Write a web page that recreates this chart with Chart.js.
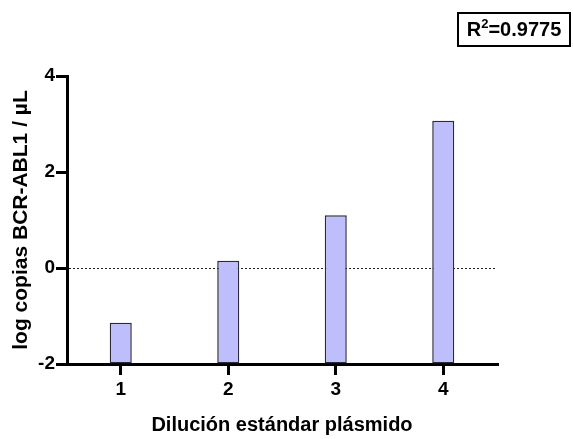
<!DOCTYPE html>
<html><head><meta charset="utf-8">
<script src="https://cdn.jsdelivr.net/npm/chart.js@4/dist/chart.umd.min.js"></script>
<style>
html,body{margin:0;padding:0;background:#fff;}
#wrap{position:relative;width:573px;height:439px;}
#r2{position:absolute;left:457px;top:12px;width:110px;height:31px;border:2px solid #000;font:bold 20px "Liberation Sans",Arial,sans-serif;line-height:31px;text-align:center;color:#000;}
#r2 sup{font-size:13px;line-height:0;}
</style>
</head><body>
<div id="wrap"><canvas id="c" width="573" height="439"></canvas>
<div id="r2">R<sup>2</sup>=0.9775</div></div>
<script>
const categories = ["1","2","3","4"];
const values = [-1.14, 0.15, 1.10, 3.07];
const yTicks = [-2, 0, 2, 4];
const xTitle = "Dilución estándar plásmido";
const yTitle = "log copias BCR-ABL1 / µL";

const FONT = '"Liberation Sans", Arial, sans-serif';
new Chart(document.getElementById('c'), {
  type: 'bar',
  data: {
    labels: categories,
    datasets: [{
      data: values,
      base: -2,
      backgroundColor: '#bebefd',
      borderColor: '#2a2a3a',
      borderWidth: 1.5,
      borderSkipped: false,
      barPercentage: 0.41,
      categoryPercentage: 0.5
    }]
  },
  options: {
    responsive: false,
    animation: false,
    layout: {padding: {top: 76, right: 76, bottom: 0, left: 0}},
    plugins: {legend: {display: false}, tooltip: {enabled: false}},
    scales: {
      x: {
        offset: true,
        afterFit: (s) => { s.height = 75; },
        border: {display: true, color: '#000', width: 3},
        grid: {display: true, offset: false, drawOnChartArea: false, drawTicks: true, tickLength: 11, color: '#000', tickColor: '#000', tickWidth: 3, lineWidth: 3},
        ticks: {color: '#000', font: {family: FONT, size: 19, weight: 'bold'}, padding: 3},
        title: {display: true, text: xTitle, color: '#000', font: {family: FONT, size: 20, weight: 'bold'}, padding: {top: 0, bottom: 2}}
      },
      y: {
        min: -2, max: 4,
        afterBuildTicks: (s) => { s.ticks = yTicks.map(v => ({value: v})); },
        afterFit: (s) => { s.width = 67; },
        border: {display: true, color: '#000', width: 3, dash: [2, 2]},
        grid: {
          drawOnChartArea: true,
          drawTicks: true,
          tickLength: 11,
          tickColor: '#000',
          tickWidth: 3,
          tickBorderDash: [],
          color: (ctx) => (ctx.tick && ctx.tick.value === 0) ? '#222' : 'rgba(0,0,0,0)',
          lineWidth: 1
        },
        ticks: {color: '#000', font: {family: FONT, size: 19, weight: 'bold'}, padding: 1},
        title: {display: true, text: yTitle, color: '#000', font: {family: FONT, size: 21, weight: 'bold'}, padding: {top: 9, bottom: 0}}
      }
    }
  }
});
</script>
</body></html>
